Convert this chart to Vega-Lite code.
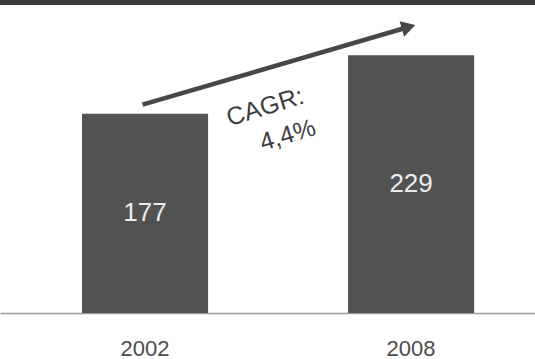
{
  "$schema": "https://vega.github.io/schema/vega-lite/v6.json",
  "width": 535,
  "height": 313,
  "autosize": {"type": "none"},
  "padding": {"left": 0, "top": 0, "right": 0, "bottom": 46},
  "background": "white",
  "config": {"view": {"stroke": null}, "font": "Liberation Sans"},
  "datasets": {
    "volume": [
      {"year": "2002", "value": 177},
      {"year": "2008", "value": 229}
    ],
    "trend": [
      {"year": "2002", "level": 185},
      {"year": "2008", "level": 254}
    ]
  },
  "layer": [
    {
      "data": {"values": [{}]},
      "mark": {"type": "rule", "color": "#3a3a3a", "strokeWidth": 10},
      "encoding": {
        "y": {"datum": 278, "type": "quantitative", "scale": {"domain": [0, 278]}, "axis": null}
      }
    },
    {
      "data": {"name": "volume"},
      "mark": {"type": "bar", "color": "#525252"},
      "encoding": {
        "x": {
          "field": "year",
          "type": "ordinal",
          "scale": {"paddingInner": 0.526, "paddingOuter": 0.2685, "align": 0.574},
          "axis": {
            "title": null,
            "ticks": false,
            "domainColor": "#9a9a9a",
            "domainWidth": 1.5,
            "labelFontSize": 22,
            "labelColor": "#4d4d4d",
            "labelPadding": 25,
            "labelAngle": 0
          }
        },
        "y": {"field": "value", "type": "quantitative", "scale": {"domain": [0, 278]}, "axis": null}
      }
    },
    {
      "data": {"name": "volume"},
      "mark": {"type": "text", "color": "#ececec", "fontSize": 26, "baseline": "middle", "align": "center"},
      "encoding": {
        "x": {"field": "year", "type": "ordinal"},
        "y": {"field": "value", "type": "quantitative", "scale": {"domain": [0, 556]}, "axis": null},
        "text": {"field": "value", "type": "quantitative"}
      }
    },
    {
      "data": {"name": "trend"},
      "mark": {"type": "line", "color": "#474747", "strokeWidth": 4.5},
      "encoding": {
        "x": {"field": "year", "type": "ordinal", "bandPosition": 0.48},
        "y": {"field": "level", "type": "quantitative", "scale": {"domain": [0, 278]}, "axis": null}
      }
    },
    {
      "data": {"name": "trend"},
      "transform": [{"filter": "datum.year == '2008'"}],
      "mark": {"type": "point", "shape": "triangle-right", "filled": true, "size": 260, "angle": -16, "color": "#474747", "opacity": 1},
      "encoding": {
        "x": {"field": "year", "type": "ordinal", "bandPosition": 0.48},
        "y": {"field": "level", "type": "quantitative", "scale": {"domain": [0, 278]}, "axis": null}
      }
    },
    {
      "data": {"values": [{}]},
      "mark": {"type": "text", "text": "CAGR:", "fontSize": 25, "angle": -17, "color": "#3d3d3d", "baseline": "middle", "align": "center"},
      "encoding": {
        "x": {"datum": "2002", "type": "ordinal", "bandPosition": 1.452},
        "y": {"datum": 183, "type": "quantitative", "scale": {"domain": [0, 278]}, "axis": null}
      }
    },
    {
      "data": {"values": [{}]},
      "mark": {"type": "text", "text": "4,4%", "fontSize": 25, "angle": -17, "color": "#3d3d3d", "baseline": "middle", "align": "center"},
      "encoding": {
        "x": {"datum": "2002", "type": "ordinal", "bandPosition": 1.63},
        "y": {"datum": 158, "type": "quantitative", "scale": {"domain": [0, 278]}, "axis": null}
      }
    }
  ],
  "resolve": {"scale": {"y": "independent"}}
}
